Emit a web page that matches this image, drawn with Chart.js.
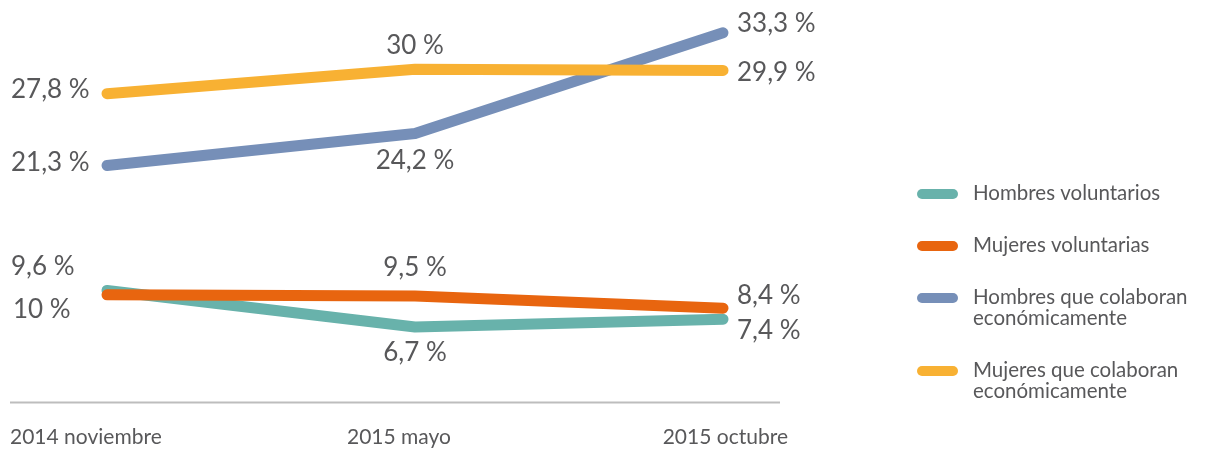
<!DOCTYPE html>
<html>
<head>
<meta charset="utf-8">
<script src="https://cdn.jsdelivr.net/npm/chart.js@4/dist/chart.umd.min.js"></script>
<style>
  html, body { margin: 0; padding: 0; background: #ffffff; }
  #wrap { position: relative; width: 1209px; height: 453px; }
</style>
</head>
<body>
<div id="wrap"><canvas id="c" width="1209" height="453"></canvas></div>
<script>
// ---- data ----
const categories = ['2014 noviembre', '2015 mayo', '2015 octubre'];
const hombresVoluntarios = [10, 6.7, 7.4];
const mujeresVoluntarias = [9.6, 9.5, 8.4];
const hombresColaboran = [21.3, 24.2, 33.3];
const mujeresColaboran = [27.8, 30, 29.9];
const seriesNames = [
  'Hombres voluntarios',
  'Mujeres voluntarias',
  ['Hombres que colaboran', 'económicamente'],
  ['Mujeres que colaboran', 'económicamente']
];

// ---- styles / layout ----
const colors = ['#68b2ab', '#e8650f', '#768fb8', '#f8b133'];
const FONT = 'Lato, "Open Sans", sans-serif';
const TEXT = '#58585a';
// label placement per series per point: [align, dx, dy]
const labelPlace = [
  [['left', -94, 19], ['center', 0, 26], ['left', 14, 11]],
  [['left', -96, -28], ['center', 0, -28], ['left', 14, -13]],
  [['left', -96, -3], ['center', 0, 27], ['left', 14, -9]],
  [['left', -96, -4], ['center', 0, -24], ['left', 14, 2]]
];

const seriesData = [hombresVoluntarios, mujeresVoluntarias, hombresColaboran, mujeresColaboran];
const drawOrder = [4, 2, 3, 1];

const datasets = seriesData.map((vals, i) => ({
  label: Array.isArray(seriesNames[i]) ? seriesNames[i].join(' ') : seriesNames[i],
  data: vals.map((v, j) => ({ x: j, y: v })),
  borderColor: colors[i],
  backgroundColor: colors[i],
  borderWidth: 11,
  borderCapStyle: 'round',
  borderJoinStyle: 'round',
  pointRadius: 0,
  pointHoverRadius: 0,
  tension: 0,
  order: drawOrder[i]
}));

const fmt = v => String(v).replace('.', ',') + ' %';

const decor = {
  id: 'decor',
  afterDraw(chart) {
    const ctx = chart.ctx;
    const area = chart.chartArea;
    ctx.save();
    // baseline
    ctx.strokeStyle = '#bdbdbd';
    ctx.lineWidth = 2;
    ctx.beginPath();
    ctx.moveTo(area.left, area.bottom + 1.5);
    ctx.lineTo(area.right, area.bottom + 1.5);
    ctx.stroke();
    // category labels
    ctx.fillStyle = TEXT;
    ctx.font = '21px ' + FONT;
    ctx.textBaseline = 'middle';
    const ty = area.bottom + 36;
    ctx.textAlign = 'left';
    ctx.fillText(categories[0], area.left, ty);
    ctx.textAlign = 'center';
    ctx.fillText(categories[1], (area.left + area.right + 8) / 2, ty);
    ctx.textAlign = 'right';
    ctx.fillText(categories[2], area.right + 8, ty);
    // data labels
    ctx.font = '26px ' + FONT;
    chart.data.datasets.forEach((ds, i) => {
      const meta = chart.getDatasetMeta(i);
      meta.data.forEach((pt, j) => {
        const p = labelPlace[i][j];
        ctx.textAlign = p[0];
        ctx.fillText(fmt(seriesData[i][j]), pt.x + p[1], pt.y + p[2]);
      });
    });
    // legend
    const lx = 917, sw = 41, tx = 973;
    const rows = [193, 245, 297, 370];
    ctx.font = '20.5px ' + FONT;
    ctx.textAlign = 'left';
    seriesNames.forEach((name, i) => {
      const y = rows[i];
      ctx.strokeStyle = colors[i];
      ctx.lineWidth = 10;
      ctx.lineCap = 'round';
      ctx.beginPath();
      ctx.moveTo(lx + 5, y + 1);
      ctx.lineTo(lx + sw - 5, y + 1);
      ctx.stroke();
      const lines = Array.isArray(name) ? name : [name];
      lines.forEach((t, k) => {
        ctx.fillStyle = TEXT;
        ctx.fillText(t, tx, y + k * 21);
      });
    });
    ctx.restore();
  }
};

new Chart(document.getElementById('c'), {
  type: 'line',
  data: { datasets },
  options: {
    responsive: false,
    animation: false,
    layout: { padding: { left: 10, right: 429, top: 3, bottom: 52 } },
    plugins: { legend: { display: false }, tooltip: { enabled: false } },
    scales: {
      x: { type: 'linear', min: -0.315, max: 2.185, display: false },
      y: { type: 'linear', min: 0, max: 36, display: false }
    }
  },
  plugins: [decor]
});
</script>
</body>
</html>
